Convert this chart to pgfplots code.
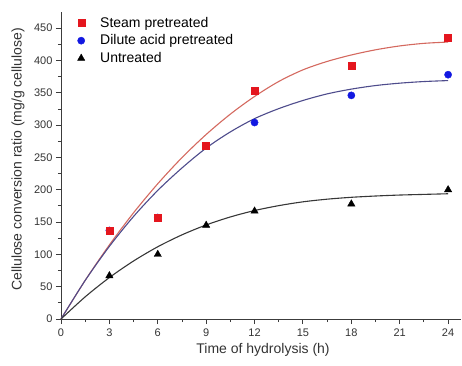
\documentclass[border=0pt]{standalone}
\usepackage{pgfplots}
\pgfplotsset{compat=1.18}
\usepackage{fontspec}
\setmainfont{Liberation Sans}
\definecolor{mred}{RGB}{228,22,30}
\definecolor{mblue}{RGB}{18,24,225}
\definecolor{cred}{RGB}{212,105,95}
\definecolor{cblue}{RGB}{78,76,140}
\definecolor{cblack}{RGB}{55,55,55}
\definecolor{axc}{RGB}{60,60,60}
\begin{document}
\begin{tikzpicture}
\useasboundingbox (-61pt,-46pt) rectangle (401pt,319pt);
\begin{axis}[
  scale only axis, width=400pt, height=307pt,
  xmin=0, xmax=24.8, ymin=0, ymax=475,
  axis x line*=bottom, axis y line*=left,
  axis line style={axc, line width=1pt, -},
  xtick={0,3,...,24}, ytick={0,50,...,450},
  minor x tick num=1, minor y tick num=1,
  tick align=outside,
  major tick length=5pt, minor tick length=3pt,
  every tick/.style={axc, line width=0.9pt},
  /pgf/number format/assume math mode=true,
  tick label style={font=\fontsize{11}{13}\selectfont, text=black!80},
  xticklabel style={yshift=-1pt},
  xlabel={Time of hydrolysis (h)},
  ylabel={Cellulose conversion ratio (mg/g cellulose)},
  label style={font=\fontsize{14}{16}\selectfont, text=black!80},
  xlabel style={at={(rel axis cs:0.505,0)}, anchor=center, yshift=-31pt},
  ylabel style={at={(axis description cs:-0.1075,0.52)}, anchor=center, rotate=0},
  legend style={at={(rel axis cs:0,1)}, anchor=north west, draw=none, fill=none,
    xshift=14pt, yshift=-2pt, font=\fontsize{14}{16}\selectfont,
    row sep=2pt, inner sep=1pt},
  legend cell align=left,
  legend image code/.code={\path[draw=none,fill=none] (0pt,0pt) -- (22pt,0pt); \draw[#1] plot coordinates {(5pt,0pt)};},
  clip=false
]
\addlegendimage{only marks, mark=square*, mark size=3.5pt, mred, draw=mred}
\addlegendimage{only marks, mark=*, mark size=3.6pt, mblue, draw=mblue}
\addlegendimage{only marks, mark=triangle*, mark size=4.2pt, black}
\legend{Steam pretreated, Dilute acid pretreated, Untreated}

% fitted curves
\addplot[forget plot, cred, line width=1.1pt, smooth] coordinates {
(0,0) (1.5,59.8) (3,114.6) (4.5,164.4) (6,209.3) (7.5,249.7) (9,285.5) (10.5,317.0)
(12,344.3) (13.5,367.5) (15,385.5) (16.5,398.5) (18,408.5) (19.5,416.5) (21,422.5)
(22.5,426.5) (24,428.5)};
\addplot[forget plot, cblue, line width=1.1pt, smooth] coordinates {
(0,0) (1.5,59.7) (3,112.4) (4.5,158.7) (6,199.0) (7.5,233.7) (9,264.5) (10.5,289.5)
(12,310.0) (13.5,325.5) (15,338.1) (16.5,348.3) (18,355.7) (19.5,361.2) (21,364.9)
(22.5,367.4) (24,368.9)};
\addplot[forget plot, cblack, line width=1.1pt, smooth] coordinates {
(0,0) (1.5,34.3) (3,64.1) (4.5,89.8) (6,111.8) (7.5,130.2) (9,145.5) (10.5,157.9)
(12,167.8) (13.5,175.4) (15,181.3) (16.5,185.4) (18,188.3) (19.5,190.3) (21,191.8)
(22.5,192.8) (24,193.8)};

% data points
\addplot[forget plot, only marks, mark=*, mark size=3.6pt, mblue, draw=mblue] coordinates {
(3,137) (6,157) (9,268) (12,304) (18,346) (24,378)};
\addplot[forget plot, only marks, mark=triangle*, mark size=4.2pt, black] coordinates {
(3,67) (6,100) (9,145) (12,167) (18,178) (24,200)};
\addplot[forget plot, only marks, mark=square*, mark size=3.5pt, mred, draw=mred] coordinates {
(3,137) (6,157) (9,268) (12,353) (18,392) (24,436)};
\end{axis}
\end{tikzpicture}
\end{document}
